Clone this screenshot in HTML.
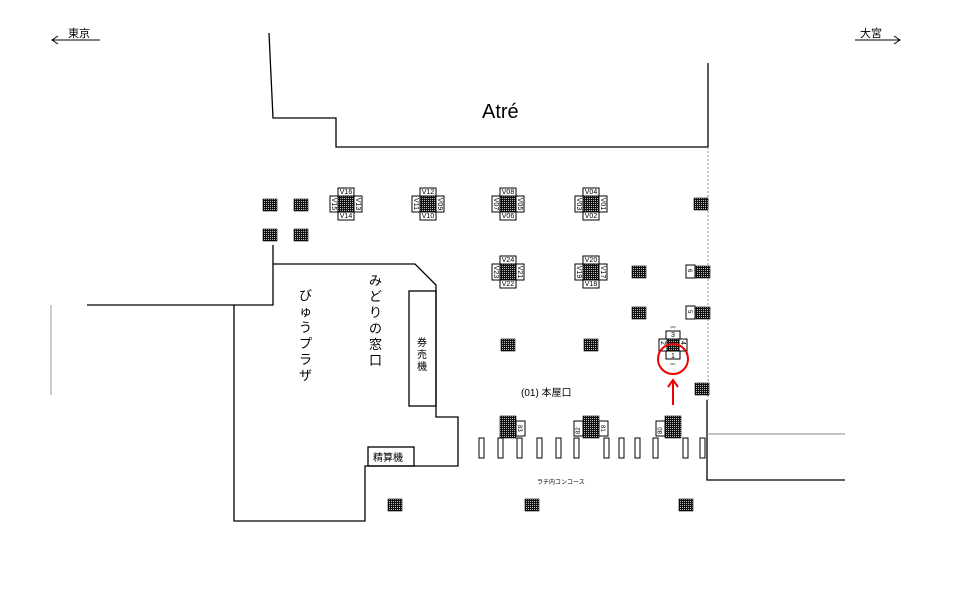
<!DOCTYPE html>
<html><head><meta charset="utf-8"><style>
html,body{margin:0;padding:0;background:#fff}
svg{display:block}
text{font-family:"Liberation Sans","Noto Sans CJK JP",sans-serif;fill:#000}
.j{font-family:"Noto Sans CJK JP","Liberation Sans",sans-serif}
</style></head><body>
<svg width="960" height="605" viewBox="0 0 960 605" xmlns="http://www.w3.org/2000/svg">
<defs>
<pattern id="h" width="2" height="2" patternUnits="userSpaceOnUse">
<rect width="2" height="2" fill="#111"/><rect width="1" height="1" fill="#bbb"/>
</pattern>
<g id="p"><rect x="-7" y="-6" width="14" height="12" fill="url(#h)" stroke="#000" stroke-width="0.6"/></g>
</defs>
<g fill="none" stroke="#000" stroke-width="1.3">
<polyline points="269,33 273,118 336,118 336,147 708,147"/>
<line x1="708" y1="63" x2="708" y2="147"/>
<line x1="708" y1="147" x2="708" y2="400" stroke="#888" stroke-width="1" stroke-dasharray="2,2"/>
<polyline points="707,400 707,480 845,480"/>
<line x1="707" y1="434" x2="845" y2="434" stroke="#888" stroke-width="1"/>
<polyline points="87,305 273,305 273,245"/>
<polyline points="273,264 415,264 436,285 436,417 458,417 458,466 365,466 365,521 234,521 234,305"/>
<rect x="409" y="291" width="27" height="115"/>
<rect x="368" y="447" width="46" height="19"/>
<line x1="51" y1="305" x2="51" y2="395" stroke="#999" stroke-width="1"/>
<path d="M100,40 H52 M58,36 L52,40 L58,44" stroke-width="1"/>
<path d="M855,40 H900 M894,36 L900,40 L894,44" stroke-width="1"/>
</g>
<text x="68" y="37" font-size="11" class="j">東京</text>
<text x="860" y="37" font-size="11" class="j">大宮</text>
<text x="482" y="118" font-size="20">Atré</text>
<g class="j" font-size="13">
<text x="299" y="300">び</text><text x="299" y="316">ゅ</text><text x="299" y="332">う</text><text x="299" y="348">プ</text><text x="299" y="364">ラ</text><text x="299" y="380">ザ</text>
<text x="369" y="285">み</text><text x="369" y="301">ど</text><text x="369" y="317">り</text><text x="369" y="333">の</text><text x="369" y="349">窓</text><text x="369" y="365">口</text>
</g>
<g class="j" font-size="10"><text x="417" y="346">券</text><text x="417" y="358">売</text><text x="417" y="370">機</text>
<text x="373" y="461">精算機</text>
<text x="521" y="396">(01) 本屋口</text></g>
<text x="537" y="484" font-size="6" class="j">ラチ内コンコース</text>
<g>
<use href="#p" x="270" y="205"/><use href="#p" x="301" y="205"/><use href="#p" x="270" y="235"/><use href="#p" x="301" y="235"/>
<use href="#p" x="701" y="204"/><use href="#p" x="639" y="272"/><use href="#p" x="703" y="272"/><use href="#p" x="639" y="313"/><use href="#p" x="703" y="313"/>
<use href="#p" x="508" y="345"/><use href="#p" x="591" y="345"/><use href="#p" x="702" y="389"/>
<use href="#p" x="395" y="505"/><use href="#p" x="532" y="505"/><use href="#p" x="686" y="505"/>
</g>
<g fill="url(#h)" stroke="#000" stroke-width="0.6">
<rect x="500" y="416" width="16" height="22"/><rect x="583" y="416" width="16" height="22"/><rect x="665" y="416" width="16" height="22"/>
</g>
<g fill="#fff" stroke="#000" stroke-width="1">
<rect x="516" y="421" width="9" height="15"/><rect x="574" y="421" width="9" height="15"/><rect x="599" y="421" width="9" height="15"/><rect x="656" y="421" width="9" height="15"/>
<rect x="686" y="265" width="9" height="13"/><rect x="686" y="306" width="9" height="13"/>
</g>
<g font-size="6">
<text transform="translate(518,425) rotate(90)">83</text>
<text transform="translate(580,434) rotate(-90)">82</text>
<text transform="translate(601,425) rotate(90)">81</text>
<text transform="translate(662,434) rotate(-90)">80</text>
<text transform="translate(688,269) rotate(90)">6</text>
<text transform="translate(688,310) rotate(90)">5</text>
</g>
<g fill="#fff" stroke="#000" stroke-width="1">
<rect x="479" y="438" width="5" height="20"/><rect x="498" y="438" width="5" height="20"/><rect x="517" y="438" width="5" height="20"/><rect x="537" y="438" width="5" height="20"/><rect x="556" y="438" width="5" height="20"/><rect x="574" y="438" width="5" height="20"/><rect x="604" y="438" width="5" height="20"/><rect x="619" y="438" width="5" height="20"/><rect x="635" y="438" width="5" height="20"/><rect x="653" y="438" width="5" height="20"/><rect x="683" y="438" width="5" height="20"/><rect x="700" y="438" width="5" height="20"/>
</g>
<g font-size="7" stroke-width="1">
<g transform="translate(346,204)"><rect x="-8" y="-8" width="16" height="16" fill="url(#h)" stroke="#000"/><rect x="-8" y="-16" width="16" height="8" fill="#fff" stroke="#000"/><rect x="-8" y="8" width="16" height="8" fill="#fff" stroke="#000"/><rect x="-16" y="-8" width="8" height="16" fill="#fff" stroke="#000"/><rect x="8" y="-8" width="8" height="16" fill="#fff" stroke="#000"/>
<text x="0" y="-10" text-anchor="middle">V16</text><text x="0" y="14" text-anchor="middle">V14</text><text transform="translate(-14,0) rotate(90)" text-anchor="middle">V15</text><text transform="translate(10,0) rotate(90)" text-anchor="middle">V13</text></g>
<g transform="translate(428,204)"><rect x="-8" y="-8" width="16" height="16" fill="url(#h)" stroke="#000"/><rect x="-8" y="-16" width="16" height="8" fill="#fff" stroke="#000"/><rect x="-8" y="8" width="16" height="8" fill="#fff" stroke="#000"/><rect x="-16" y="-8" width="8" height="16" fill="#fff" stroke="#000"/><rect x="8" y="-8" width="8" height="16" fill="#fff" stroke="#000"/>
<text x="0" y="-10" text-anchor="middle">V12</text><text x="0" y="14" text-anchor="middle">V10</text><text transform="translate(-14,0) rotate(90)" text-anchor="middle">V11</text><text transform="translate(10,0) rotate(90)" text-anchor="middle">V09</text></g>
<g transform="translate(508,204)"><rect x="-8" y="-8" width="16" height="16" fill="url(#h)" stroke="#000"/><rect x="-8" y="-16" width="16" height="8" fill="#fff" stroke="#000"/><rect x="-8" y="8" width="16" height="8" fill="#fff" stroke="#000"/><rect x="-16" y="-8" width="8" height="16" fill="#fff" stroke="#000"/><rect x="8" y="-8" width="8" height="16" fill="#fff" stroke="#000"/>
<text x="0" y="-10" text-anchor="middle">V08</text><text x="0" y="14" text-anchor="middle">V06</text><text transform="translate(-14,0) rotate(90)" text-anchor="middle">V07</text><text transform="translate(10,0) rotate(90)" text-anchor="middle">V05</text></g>
<g transform="translate(591,204)"><rect x="-8" y="-8" width="16" height="16" fill="url(#h)" stroke="#000"/><rect x="-8" y="-16" width="16" height="8" fill="#fff" stroke="#000"/><rect x="-8" y="8" width="16" height="8" fill="#fff" stroke="#000"/><rect x="-16" y="-8" width="8" height="16" fill="#fff" stroke="#000"/><rect x="8" y="-8" width="8" height="16" fill="#fff" stroke="#000"/>
<text x="0" y="-10" text-anchor="middle">V04</text><text x="0" y="14" text-anchor="middle">V02</text><text transform="translate(-14,0) rotate(90)" text-anchor="middle">V03</text><text transform="translate(10,0) rotate(90)" text-anchor="middle">V01</text></g>
<g transform="translate(508,272)"><rect x="-8" y="-8" width="16" height="16" fill="url(#h)" stroke="#000"/><rect x="-8" y="-16" width="16" height="8" fill="#fff" stroke="#000"/><rect x="-8" y="8" width="16" height="8" fill="#fff" stroke="#000"/><rect x="-16" y="-8" width="8" height="16" fill="#fff" stroke="#000"/><rect x="8" y="-8" width="8" height="16" fill="#fff" stroke="#000"/>
<text x="0" y="-10" text-anchor="middle">V24</text><text x="0" y="14" text-anchor="middle">V22</text><text transform="translate(-14,0) rotate(90)" text-anchor="middle">V23</text><text transform="translate(10,0) rotate(90)" text-anchor="middle">V21</text></g>
<g transform="translate(591,272)"><rect x="-8" y="-8" width="16" height="16" fill="url(#h)" stroke="#000"/><rect x="-8" y="-16" width="16" height="8" fill="#fff" stroke="#000"/><rect x="-8" y="8" width="16" height="8" fill="#fff" stroke="#000"/><rect x="-16" y="-8" width="8" height="16" fill="#fff" stroke="#000"/><rect x="8" y="-8" width="8" height="16" fill="#fff" stroke="#000"/>
<text x="0" y="-10" text-anchor="middle">V20</text><text x="0" y="14" text-anchor="middle">V18</text><text transform="translate(-14,0) rotate(90)" text-anchor="middle">V19</text><text transform="translate(10,0) rotate(90)" text-anchor="middle">V17</text></g>
<g transform="translate(673,345)" font-size="7"><rect x="-6" y="-6" width="12" height="12" fill="url(#h)" stroke="#000"/><rect x="-7" y="-14" width="14" height="8" fill="#fff" stroke="#000"/><rect x="-7" y="6" width="14" height="8" fill="#fff" stroke="#000"/><rect x="-14" y="-6" width="8" height="12" fill="#fff" stroke="#000"/><rect x="6" y="-6" width="8" height="12" fill="#fff" stroke="#000"/>
<text x="0" y="-8" text-anchor="middle">3</text><text x="0" y="13" text-anchor="middle">1</text><text transform="translate(-12,-2) rotate(90)" text-anchor="middle">2</text><text transform="translate(8,-2) rotate(90)" text-anchor="middle">4</text>
<text x="0" y="-17" text-anchor="middle" font-size="3">(03)</text><text x="0" y="20" text-anchor="middle" font-size="3">(01)</text></g>
</g>
<circle cx="673" cy="359" r="15" fill="none" stroke="#e00" stroke-width="2"/>
<line x1="673" y1="405" x2="673" y2="381" stroke="#e00" stroke-width="2"/>
<polyline points="668,387 673,380 678,387" fill="none" stroke="#e00" stroke-width="2"/>
</svg>
</body></html>
